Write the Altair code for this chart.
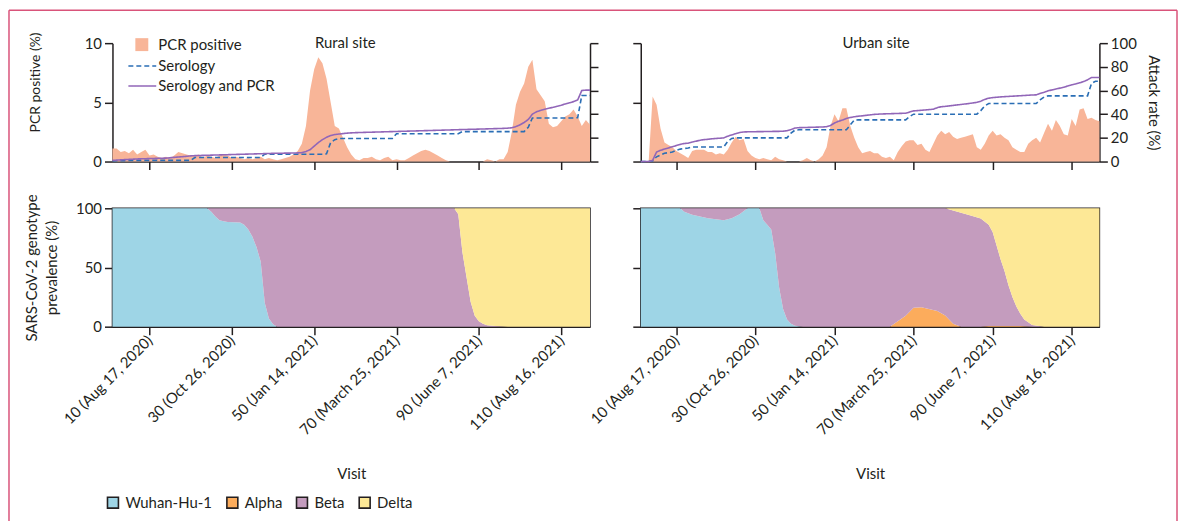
import altair as alt
import pandas as pd

# ---------------- data ----------------
visits = list(range(1, 118))

rural_pcr = [
    1.1, 1.1, 0.8, 0.9, 0.7, 1.0, 0.6, 0.8, 1.0, 0.5,
    0.6, 0.4, 0.3, 0.4, 0.3, 0.5, 0.8, 0.7, 0.6, 0.5,
    0.5, 0.6, 0.3, 0.5, 0.4, 0.3, 0.5, 0.6, 0.5, 0.3,
    0.4, 0.3, 0.2, 0.3, 0.2, 0.3, 0.4, 0.2, 0.3, 0.2,
    0.1, 0.2, 0.3, 0.4, 0.6, 0.9, 1.5, 3.0, 6.0, 7.8,
    8.8, 8.3, 7.0, 5.0, 3.0, 2.8, 2.0, 1.2, 0.6, 0.2,
    0.1, 0.3, 0.3, 0.4, 0.2, 0.1, 0.3, 0.4, 0.1, 0.2,
    0.1, 0.1, 0.3, 0.5, 0.7, 0.9, 1.0, 0.9, 0.7, 0.5,
    0.3, 0.1, 0.0, 0.0, 0.0, 0.0, 0.0, 0.0, 0.0, 0.0,
    0.0, 0.2, 0.1, 0.0, 0.2, 0.2, 0.8, 2.5, 4.8, 5.9,
    6.6, 8.0, 8.6, 6.1, 5.6, 5.1, 3.2, 2.9, 3.0, 3.4,
    3.8, 4.0, 4.4, 3.8, 3.0, 3.5, 3.1,
]
rural_sero = [
    0.5, 0.6, 0.7, 0.8, 0.9, 1.0, 1.0, 1.0, 1.0, 1.0,
    1.0, 1.0, 1.0, 1.0, 1.0, 1.0, 1.0, 1.0, 1.0, 1.0,
    3.4, 3.4, 3.4, 3.4, 3.4, 3.4, 3.4, 3.4, 3.4, 3.4,
    3.4, 3.4, 3.4, 3.4, 3.4, 3.4, 3.4, 6.2, 6.2, 6.2,
    6.2, 6.2, 6.2, 6.2, 6.2, 6.2, 6.2, 6.2, 6.2, 6.2,
    6.2, 6.2, 6.5, 16.0, 18.5, 19.5, 19.5, 19.5, 19.5, 19.5,
    19.5, 19.5, 19.5, 19.5, 19.5, 19.5, 19.5, 19.5, 19.5, 23.5,
    23.5, 23.5, 23.5, 23.5, 23.5, 23.5, 23.5, 23.5, 23.5, 23.5,
    23.5, 23.5, 23.5, 23.5, 23.5, 25.3, 25.3, 25.3, 25.3, 25.3,
    25.3, 25.3, 25.3, 25.3, 25.3, 25.3, 25.3, 25.3, 25.3, 25.3,
    25.3, 29.0, 36.8, 36.8, 36.8, 36.8, 36.8, 36.8, 36.8, 36.8,
    36.8, 36.8, 36.8, 37.0, 55.8, 55.8, 55.8,
]
rural_both = [
    1.0, 1.2, 1.4, 1.6, 1.8, 2.0, 2.2, 2.3, 2.4, 2.5,
    2.6, 2.7, 2.8, 2.9, 3.2, 3.5, 3.8, 4.1, 4.4, 4.8,
    5.0, 5.1, 5.2, 5.3, 5.4, 5.5, 5.6, 5.7, 5.8, 5.9,
    6.0, 6.1, 6.2, 6.3, 6.4, 6.5, 6.6, 6.7, 6.8, 6.9,
    7.0, 7.0, 7.1, 7.1, 7.2, 7.3, 7.5, 8.5, 10.0, 13.0,
    16.0, 18.5, 20.5, 22.0, 22.8, 23.2, 23.6, 24.0, 24.2, 24.4,
    24.5, 24.6, 24.7, 24.8, 24.9, 25.0, 25.1, 25.2, 25.3, 25.4,
    25.5, 25.6, 25.7, 25.8, 25.9, 26.0, 26.1, 26.2, 26.3, 26.4,
    26.5, 26.6, 26.7, 26.8, 26.9, 27.0, 27.1, 27.2, 27.3, 27.4,
    27.5, 27.6, 27.7, 27.8, 27.9, 28.0, 28.2, 28.5, 29.5, 31.0,
    33.0, 35.5, 40.0, 42.0, 43.2, 44.2, 45.0, 45.8, 46.7, 47.6,
    48.6, 49.6, 50.6, 52.0, 60.0, 60.3, 60.3,
]

urban_pcr = [
    0.0, 0.0, 0.0, 5.5, 4.8, 2.8, 1.6, 1.4, 1.2, 0.9,
    0.7, 0.5, 0.3, 0.9, 1.0, 1.0, 1.0, 0.8, 0.8, 0.6,
    0.7, 0.6, 1.0, 1.6, 2.1, 1.8, 1.9, 0.9, 0.5, 0.3,
    0.2, 0.3, 0.2, 0.1, 0.4, 0.2, 0.1, 0.0, 0.0, 0.0,
    0.0, 0.1, 0.3, 0.1, 0.0, 0.2, 0.5, 1.2, 3.0, 4.0,
    3.4, 4.5, 4.5, 3.0, 2.0, 1.2, 0.7, 0.8, 0.9, 0.7,
    0.7, 0.4, 0.3, 0.4, 0.1, 0.8, 1.3, 1.7, 1.8, 1.8,
    1.4, 1.5, 1.0, 0.8, 1.5, 2.2, 2.6, 2.3, 2.5, 2.1,
    1.9, 2.0, 2.1, 2.2, 2.3, 1.2, 1.0, 1.5, 2.2, 2.6,
    2.2, 2.3, 2.0, 1.8, 1.2, 1.0, 0.8, 0.8, 1.5, 1.8,
    2.0, 1.6, 2.4, 3.2, 2.6, 3.5, 3.0, 2.3, 2.2, 3.6,
    3.0, 4.4, 4.5, 3.6, 3.7, 3.5, 3.4,
]
urban_sero = [
    0.0, 0.0, 0.0, 0.5, 4.0, 5.5, 7.0, 7.5, 8.0, 9.5,
    10.5, 11.0, 11.5, 12.3, 12.3, 12.3, 12.3, 12.3, 12.3, 12.3,
    12.3, 12.3, 17.0, 19.5, 20.0, 20.0, 20.0, 20.0, 20.0, 20.0,
    20.0, 20.0, 20.0, 20.0, 20.0, 20.0, 20.0, 20.0, 24.0, 26.5,
    26.8, 26.8, 26.8, 26.8, 26.8, 26.8, 26.8, 26.8, 26.8, 26.8,
    26.8, 26.8, 26.8, 31.0, 35.0, 35.2, 35.2, 35.2, 35.2, 35.2,
    35.2, 35.2, 35.2, 35.2, 35.2, 35.2, 35.2, 35.2, 38.0, 40.0,
    40.0, 40.0, 40.0, 40.0, 40.0, 40.0, 40.0, 40.0, 40.0, 40.0,
    40.0, 40.0, 40.0, 40.0, 40.0, 40.0, 43.0, 47.0, 49.0, 49.0,
    49.0, 49.0, 49.0, 49.0, 49.0, 49.0, 49.0, 49.0, 49.0, 49.0,
    49.0, 52.0, 54.5, 55.5, 55.5, 55.5, 55.5, 55.5, 55.5, 55.5,
    55.5, 55.5, 55.5, 55.5, 66.0, 67.8, 67.8,
]
urban_both = [
    0.0, 0.0, 0.0, 1.0, 8.0, 9.5, 10.5, 11.5, 12.5, 13.5,
    14.5, 15.2, 15.5, 16.5, 17.2, 18.0, 18.5, 18.8, 19.2, 19.5,
    19.7, 20.0, 21.4, 22.5, 23.5, 24.5, 25.0, 25.1, 25.2, 25.2,
    25.3, 25.3, 25.4, 25.4, 25.5, 25.5, 25.6, 26.0, 27.0, 28.3,
    28.6, 28.7, 28.8, 28.9, 29.0, 29.1, 29.2, 29.4, 30.5, 32.5,
    34.0, 35.0, 36.3, 37.2, 37.8, 38.3, 38.6, 39.0, 39.4, 39.8,
    40.0, 40.2, 40.3, 40.4, 40.5, 40.6, 40.7, 40.8, 41.8, 42.8,
    43.0, 43.3, 43.6, 43.9, 44.2, 45.5, 46.3, 46.6, 47.0, 47.4,
    47.8, 48.2, 48.6, 49.0, 49.5, 50.0, 51.0, 52.5, 53.5, 54.0,
    54.3, 54.6, 54.8, 55.0, 55.2, 55.4, 55.6, 55.8, 56.0, 56.2,
    56.3, 57.5, 58.5, 59.7, 60.5, 61.3, 62.0, 62.8, 63.8, 64.8,
    65.5, 66.5, 67.5, 69.0, 71.0, 71.0, 71.0,
]

geno_names = ["Wuhan-Hu-1", "Alpha", "Beta", "Delta"]

rural_geno_visit = [1, 24, 25, 26, 27, 28, 29, 32, 33, 34, 35, 36, 37, 38, 39, 40, 41,
                    84, 85, 86, 87, 88, 89, 90, 91, 92, 94, 97, 117]
rural_wuhan = [100, 100, 97, 93, 90, 89, 88.5, 88, 86, 82, 76, 67, 55, 20, 7, 2, 0,
               0, 0, 0, 0, 0, 0, 0, 0, 0, 0, 0, 0]
rural_alpha = [0, 0, 0, 0, 0, 0, 0, 0, 0, 0, 0, 0, 0, 0, 0, 0, 0,
               0, 0, 0, 0, 0, 0, 0, 0, 0, 0, 0, 0]
rural_beta = [0, 0, 3, 7, 10, 11, 11.5, 12, 14, 18, 24, 33, 45, 80, 93, 98, 100,
              100, 95, 63, 42, 21, 9.3, 4.5, 2.5, 1.2, 0.5, 0, 0]
rural_delta = [0, 0, 0, 0, 0, 0, 0, 0, 0, 0, 0, 0, 0, 0, 0, 0, 0,
               0, 5, 37, 58, 79, 90.7, 95.5, 97.5, 98.8, 99.5, 100, 100]

urban_geno_visit = [1, 11, 12, 14, 18, 22, 24, 26, 28, 31, 32, 33, 34, 35, 36, 37, 38, 39, 40, 42,
                    64, 66, 68, 70, 72, 76, 78, 80, 82, 84, 87, 89, 90, 92, 93, 94, 95, 96, 97, 98,
                    100, 103, 117]
urban_wuhan = [100, 100, 97, 94.5, 91.5, 90, 91.5, 95, 100, 100, 90, 86, 82, 62, 33, 15, 6, 2.5, 0.8, 0,
               0, 0, 0, 0, 0, 0, 0, 0, 0, 0, 0, 0, 0, 0, 0, 0, 0, 0, 0, 0,
               0, 0, 0]
urban_alpha = [0, 0, 0, 0, 0, 0, 0, 0, 0, 0, 0, 0, 0, 0, 0, 0, 0, 0, 0, 0,
               0, 4.5, 9.3, 15.9, 16.4, 13.3, 9.5, 2.5, 0, 0, 0, 0.5, 0.5, 0.5, 0.5, 0.5, 0.5, 0.5, 0.5, 0.3,
               0, 0, 0]
urban_beta = [0, 0, 3, 5.5, 8.5, 10, 8.5, 5, 0, 0, 10, 14, 18, 38, 67, 85, 94, 97.5, 99.2, 100,
              100, 95.5, 90.7, 84.1, 83.6, 86.7, 90.5, 95.6, 96.2, 94.3, 91.4, 85.5, 79.5, 56.5, 46.5, 34.5, 24.5, 16.5, 10.5, 5.7,
              1.5, 0, 0]
urban_delta = [0, 0, 0, 0, 0, 0, 0, 0, 0, 0, 0, 0, 0, 0, 0, 0, 0, 0, 0, 0,
               0, 0, 0, 0, 0, 0, 0, 1.9, 3.8, 5.7, 8.6, 14, 20, 43, 53, 65, 75, 83, 89, 94,
               98.5, 100, 100]

tick_visits = [10, 30, 50, 70, 90, 110]
tick_labels = ["10 (Aug 17, 2020)", "30 (Oct 26, 2020)", "50 (Jan 14, 2021)",
               "70 (March 25, 2021)", "90 (June 7, 2021)", "110 (Aug 16, 2021)"]

# ---------------- style ----------------
FONT = "Lato"
DARK = "#231f20"
FRAME = "#D9537A"
PCR_COLOR = "#F8B598"
SERO_COLOR = "#2A6EB5"
BOTH_COLOR = "#9166B8"
GENO_COLORS = ["#9ED5E6", "#FCAC5C", "#C49CBE", "#FDE896"]

W_L, W_R, H = 480, 461, 119
X_DOMAIN = [1, 117]

label_expr = " : ".join(f"datum.value == {v} ? '{l}'" for v, l in zip(tick_visits, tick_labels)) + " : ''"

x_scale = alt.Scale(domain=X_DOMAIN, nice=False, zero=False)


def top_panel(site, pcr, sero, both, width, is_left):
    pcr_df = pd.DataFrame({"visit": visits, "pcr": pcr, "series": "PCR positive"})
    lines_df = pd.concat([
        pd.DataFrame({"visit": visits, "rate": sero, "series": "Serology"}),
        pd.DataFrame({"visit": visits, "rate": both, "series": "Serology and PCR"}),
    ])
    site_df = pd.DataFrame({"site": [site]})
    x = alt.X("visit:Q", scale=x_scale,
              axis=alt.Axis(values=tick_visits, labels=False, title=None))
    if is_left:
        y_left_axis = alt.Axis(values=[0, 5, 10], title="PCR positive (%)", titleFontSize=14,
                               titleX=-70, titleY=39, titleAlign="center", titleAngle=270)
        y_right_axis = alt.Axis(orient="right", values=[0, 20, 40, 60, 80, 100], labels=False, title=None)
        fill_legend = alt.Legend(orient="none", legendX=22, legendY=-6, title=None,
                                 symbolType="square", symbolSize=169, symbolStrokeWidth=0,
                                 labelOffset=9, labelFontSize=15, padding=0)
        line_legend = alt.Legend(orient="none", legendX=22, legendY=15, title=None,
                                 symbolType="M-2,0H2", symbolSize=196, symbolStrokeWidth=1.6,
                                 labelOffset=8, labelFontSize=15, rowPadding=4, padding=0)
        label_x = width / 2 - 6
    else:
        y_left_axis = alt.Axis(values=[0, 5, 10], labels=False, title=None)
        y_right_axis = alt.Axis(orient="right", values=[0, 20, 40, 60, 80, 100],
                                title="Attack rate (%)", titlePadding=9)
        fill_legend = None
        line_legend = None
        label_x = width / 2 + 6
    area = alt.Chart(pcr_df).mark_area(interpolate="linear").encode(
        x=x,
        y=alt.Y("pcr:Q", scale=alt.Scale(domain=[0, 10], nice=False), axis=y_left_axis),
        fill=alt.Fill("series:N", scale=alt.Scale(domain=["PCR positive"], range=[PCR_COLOR]),
                      legend=fill_legend),
    )
    lines = alt.Chart(lines_df).mark_line(strokeWidth=1.6).encode(
        x=x,
        y=alt.Y("rate:Q", scale=alt.Scale(domain=[0, 100], nice=False), axis=y_right_axis),
        stroke=alt.Stroke("series:N",
                          scale=alt.Scale(domain=["Serology", "Serology and PCR"],
                                          range=[SERO_COLOR, BOTH_COLOR]),
                          legend=line_legend),
        strokeDash=alt.StrokeDash("series:N",
                                  scale=alt.Scale(domain=["Serology", "Serology and PCR"],
                                                  range=[[5, 3], [1, 0]]),
                                  legend=line_legend),
    )
    label = alt.Chart(site_df).mark_text(
        font=FONT, fontSize=15, color=DARK, align="center", baseline="middle",
    ).encode(text="site:N", x=alt.value(label_x), y=alt.value(0))
    layers = [area, lines, label]
    if is_left:
        # thin journal frame around the whole figure (left, top, right edges)
        frame_l = alt.Chart(site_df).mark_rule(color=FRAME, strokeWidth=1.5).encode(
            x=alt.value(-104), y=alt.value(-33), y2=alt.value(482))
        frame_t = alt.Chart(site_df).mark_rule(color=FRAME, strokeWidth=1.5).encode(
            x=alt.value(-104), x2=alt.value(1070), y=alt.value(-33))
        frame_r = alt.Chart(site_df).mark_rule(color=FRAME, strokeWidth=1.5).encode(
            x=alt.value(1070), y=alt.value(-33), y2=alt.value(482))
        layers += [frame_l, frame_t, frame_r]
    return alt.layer(*layers).resolve_scale(y="independent").properties(
        width=width, height=H,
    )


def geno_panel(gv, w, a, b, d, width, is_left):
    rows = []
    for rank, (name, vals) in enumerate(zip(geno_names, [w, a, b, d])):
        for v, val in zip(gv, vals):
            rows.append({"visit": v, "pct": val, "variant": name, "rank": rank})
    df = pd.DataFrame(rows)
    if is_left:
        y_axis = alt.Axis(values=[0, 50, 100],
                          title=["SARS-CoV-2 genotype", "prevalence (%)"],
                          titleX=-73, titleLineHeight=20)
    else:
        y_axis = alt.Axis(values=[0, 50, 100], labels=False, title=None)
    legend = alt.Legend(orient="none", direction="horizontal", legendX=-7, legendY=454,
                        title=None, symbolType="square", symbolSize=121,
                        symbolStrokeColor=DARK, symbolStrokeWidth=1.6,
                        labelOffset=5, labelFontSize=15, columnPadding=10, padding=0)
    return alt.Chart(df).mark_area(interpolate="linear").encode(
        x=alt.X("visit:Q", scale=x_scale,
                axis=alt.Axis(values=tick_visits, labelExpr=label_expr, labelAngle=-45,
                              labelAlign="right", labelBaseline="middle",
                              labelOverlap=False, labelFlush=False,
                              title="Visit", titlePadding=29)),
        y=alt.Y("pct:Q", stack="zero", scale=alt.Scale(domain=[0, 100], nice=False), axis=y_axis),
        color=alt.Color("variant:N", scale=alt.Scale(domain=geno_names, range=GENO_COLORS),
                        legend=legend),
        order=alt.Order("rank:Q", sort="ascending"),
    ).properties(width=width, height=H,
                 view=alt.ViewBackground(stroke=DARK, strokeWidth=1.5))


tl = top_panel("Rural site", rural_pcr, rural_sero, rural_both, W_L, True)
tr = top_panel("Urban site", urban_pcr, urban_sero, urban_both, W_R, False)
bl = geno_panel(rural_geno_visit, rural_wuhan, rural_alpha, rural_beta, rural_delta, W_L, True)
br = geno_panel(urban_geno_visit, urban_wuhan, urban_alpha, urban_beta, urban_delta, W_R, False)

chart = alt.concat(
    tl, tr, bl, br, columns=2, spacing={"row": 47, "column": 51}, bounds="flush",
).resolve_scale(
    fill="independent", stroke="independent", strokeDash="independent",
).properties(
    padding={"left": 0, "top": 0, "right": 0, "bottom": 0},
).configure(
    font=FONT,
).configure_view(
    stroke=None,
).configure_axis(
    domainColor=DARK, domainWidth=1.5, tickColor=DARK, tickWidth=1.5, tickSize=8,
    labelFont=FONT, labelFontSize=15, labelColor=DARK, labelPadding=3,
    titleFont=FONT, titleFontSize=15, titleFontWeight="normal", titleColor=DARK,
    grid=False,
).configure_legend(
    labelFont=FONT, labelColor=DARK, symbolStrokeColor=DARK,
)

chart.save("out.html", embed_options={"renderer": "svg", "actions": False})
